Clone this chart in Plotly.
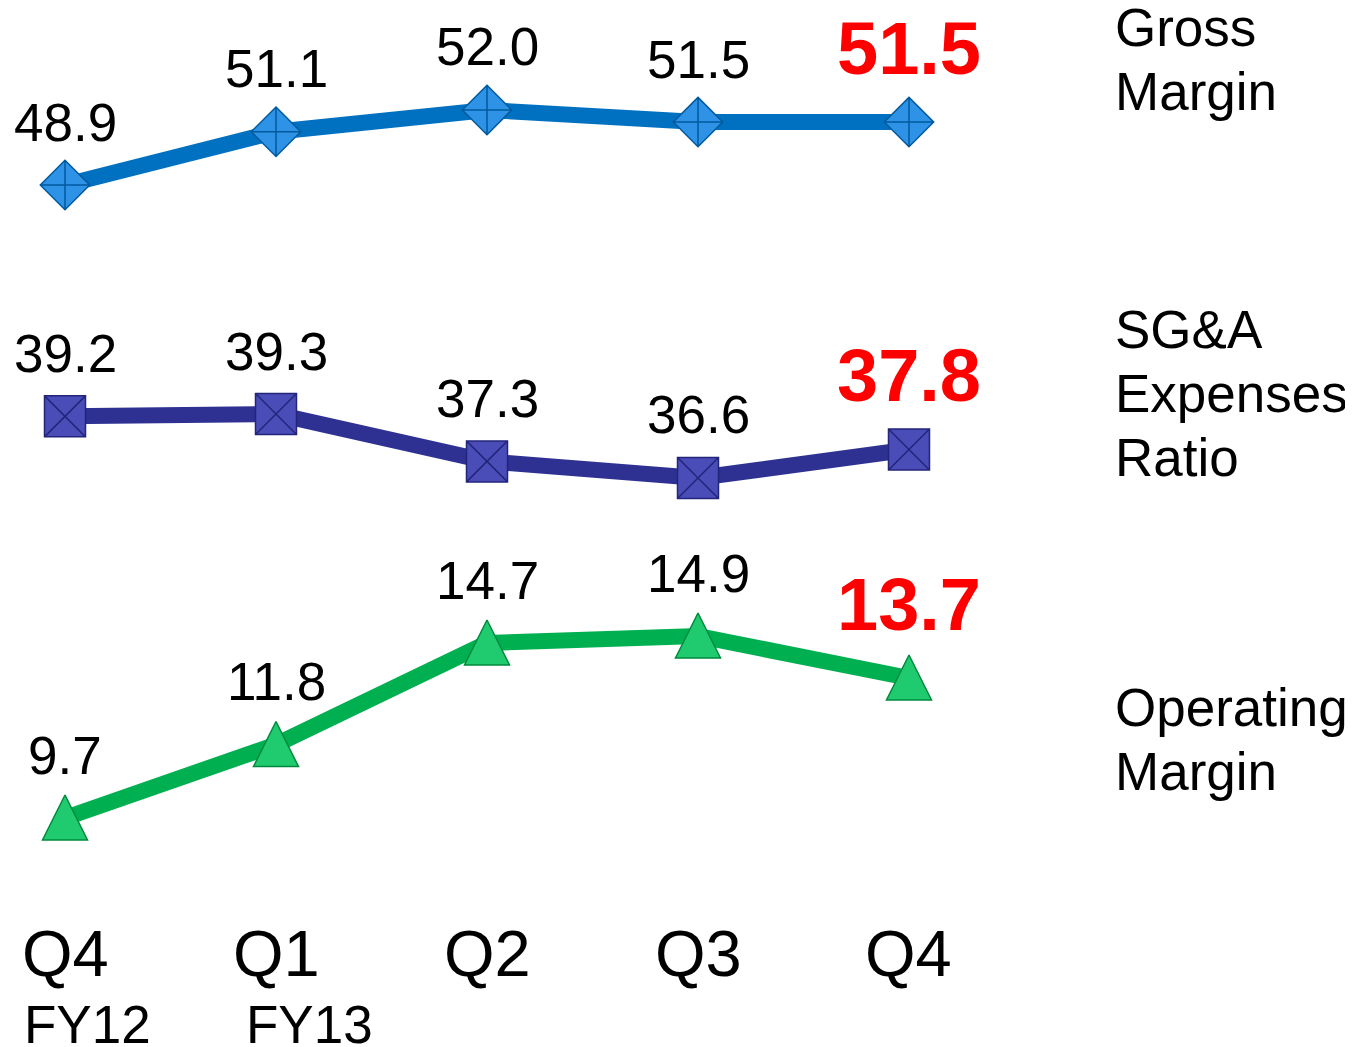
import plotly.graph_objects as go

quarters = ["Q4", "Q1", "Q2", "Q3", "Q4"]
fiscal_years = ["FY12", "FY13"]
gross_margin = [48.9, 51.1, 52.0, 51.5, 51.5]
sga_ratio = [39.2, 39.3, 37.3, 36.6, 37.8]
operating_margin = [9.7, 11.8, 14.7, 14.9, 13.7]
series_names = [["Gross", "Margin"], ["SG&A", "Expenses", "Ratio"], ["Operating", "Margin"]]

FONT = "Liberation Sans, Arial, sans-serif"
W, H = 1345, 1039  # page body keeps an 8px margin top/left
x = list(range(len(quarters)))

fig = go.Figure()

# one overlaid y axis per series, each with its own scale
styles = [
    (gross_margin, "y", "#0070C0", "diamond-cross", 38, "#2E93E6", "#005A9E"),
    (sga_ratio, "y2", "#2E3192", "square-x", 41, "#4A4DB8", "#23257A"),
    (operating_margin, "y3", "#00B050", None, 0, None, None),
]
for vals, yax, lc, sym, ms, fill, edge in styles:
    fig.add_trace(go.Scatter(
        x=x, y=vals, yaxis=yax, mode="lines+markers" if sym else "lines",
        line=dict(color=lc, width=16),
        marker=dict(symbol=sym, size=ms, color=fill, line=dict(color=edge, width=1.5)) if sym else None,
        showlegend=False, hoverinfo="skip"))

# tall triangles: arrow-up hangs below its point, so it sits on a twin axis nudged up
fig.add_trace(go.Scatter(
    x=x, y=operating_margin, yaxis="y4", mode="markers",
    marker=dict(symbol="arrow-up", size=45, color="#1FCB6E",
                line=dict(color="#008A3E", width=1.5)),
    showlegend=False, hoverinfo="skip"))

annotations = []
for vals, yax in [(gross_margin, "y"), (sga_ratio, "y2"), (operating_margin, "y3")]:
    for i, v in enumerate(vals):
        last = i == len(vals) - 1
        annotations.append(dict(
            x=i, y=v, xref="x", yref=yax, text=f"{v:.1f}", showarrow=False,
            yanchor="middle", yshift=74 if last else 63,
            font=dict(family=FONT, size=74 if last else 53,
                      color="#FF0000" if last else "#000000",
                      weight="bold" if last else "normal")))

for i, q in enumerate(quarters):
    annotations.append(dict(x=i, y=1 - 945 / H, xref="x", yref="paper", text=q,
                            showarrow=False, yanchor="middle",
                            font=dict(family=FONT, size=65, color="#000000")))
for i, fy in enumerate(fiscal_years):
    annotations.append(dict(x=i, y=1 - 1016 / H, xref="x", yref="paper", text=fy,
                            showarrow=False, yanchor="middle", xshift=[22, 33][i],
                            font=dict(family=FONT, size=53, color="#000000")))

label_rows = [[19, 83], [321, 385, 449], [699, 763]]
for lines, rows in zip(series_names, label_rows):
    for line, py in zip(lines, rows):
        annotations.append(dict(x=1105 / W, y=1 - py / H, xref="paper", yref="paper",
                                text=line, showarrow=False, xanchor="left",
                                yanchor="middle", align="left",
                                font=dict(family=FONT, size=53, color="#000000")))

hidden = dict(visible=False, showgrid=False, zeroline=False)
op_range = [3.157, 32.843]
nudge = 23 / 35  # 23px at 35px per point
fig.update_layout(
    width=W, height=H,
    margin=dict(l=0, r=0, t=0, b=0),
    paper_bgcolor="white", plot_bgcolor="white",
    xaxis=dict(range=[-0.27014, 6.1043], **hidden),
    yaxis=dict(range=[13.28, 56.214], domain=[0, 1], **hidden),
    yaxis2=dict(range=[12.591, 56.431], overlaying="y", **hidden),
    yaxis3=dict(range=op_range, overlaying="y", **hidden),
    yaxis4=dict(range=[op_range[0] - nudge, op_range[1] - nudge], overlaying="y", **hidden),
    annotations=annotations,
)

fig.write_html("out.html")
